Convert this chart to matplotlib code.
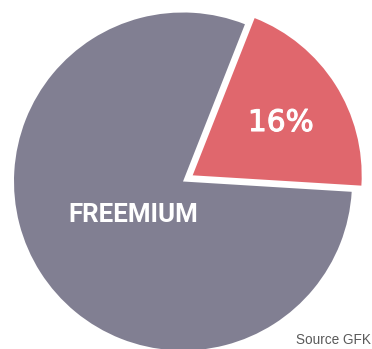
import matplotlib
matplotlib.use('Agg')
import matplotlib.pyplot as plt
import matplotlib.patheffects as pe

labels = ['FREEMIUM', '16%']
shares = [80, 20]
colors = ['#817f92', '#e0676d']
explode = [0, 0.068]
source = 'Source GFK'

W, H = 372, 349
R = 169.0          # pie radius in pixels
cx, cy = 183, 181.5  # pie centre in pixels (from top-left)

fig = plt.figure(figsize=(W / 100, H / 100), dpi=100)
ax = fig.add_axes([0, 0, 1, 1])
ax.pie(shares, colors=colors, explode=explode, startangle=68.5,
       counterclock=True, radius=1, center=(0, 0),
       wedgeprops={'linewidth': 0})
ax.set_xlim(-cx / R, (W - cx) / R)
ax.set_ylim(-(H - cy) / R, cy / R)
ax.set_aspect('equal')
ax.axis('off')


def px(x, y):
    return x / W, 1 - y / H


fig.text(*px(133.5, 215.5), labels[0], color='white', fontsize=18.6,
         fontweight='bold', family='Roboto', ha='center', va='center')
fig.text(*px(281, 122.5), labels[1], color='white', fontsize=21.3,
         family='DejaVu Sans', ha='center', va='center',
         path_effects=[pe.withStroke(linewidth=0.8, foreground='white')])
fig.text(*px(371.5, 344), source, color='#5a5a5a', fontsize=9.8,
         family='Liberation Sans', ha='right', va='baseline')

fig.savefig('out.png', dpi=100)
